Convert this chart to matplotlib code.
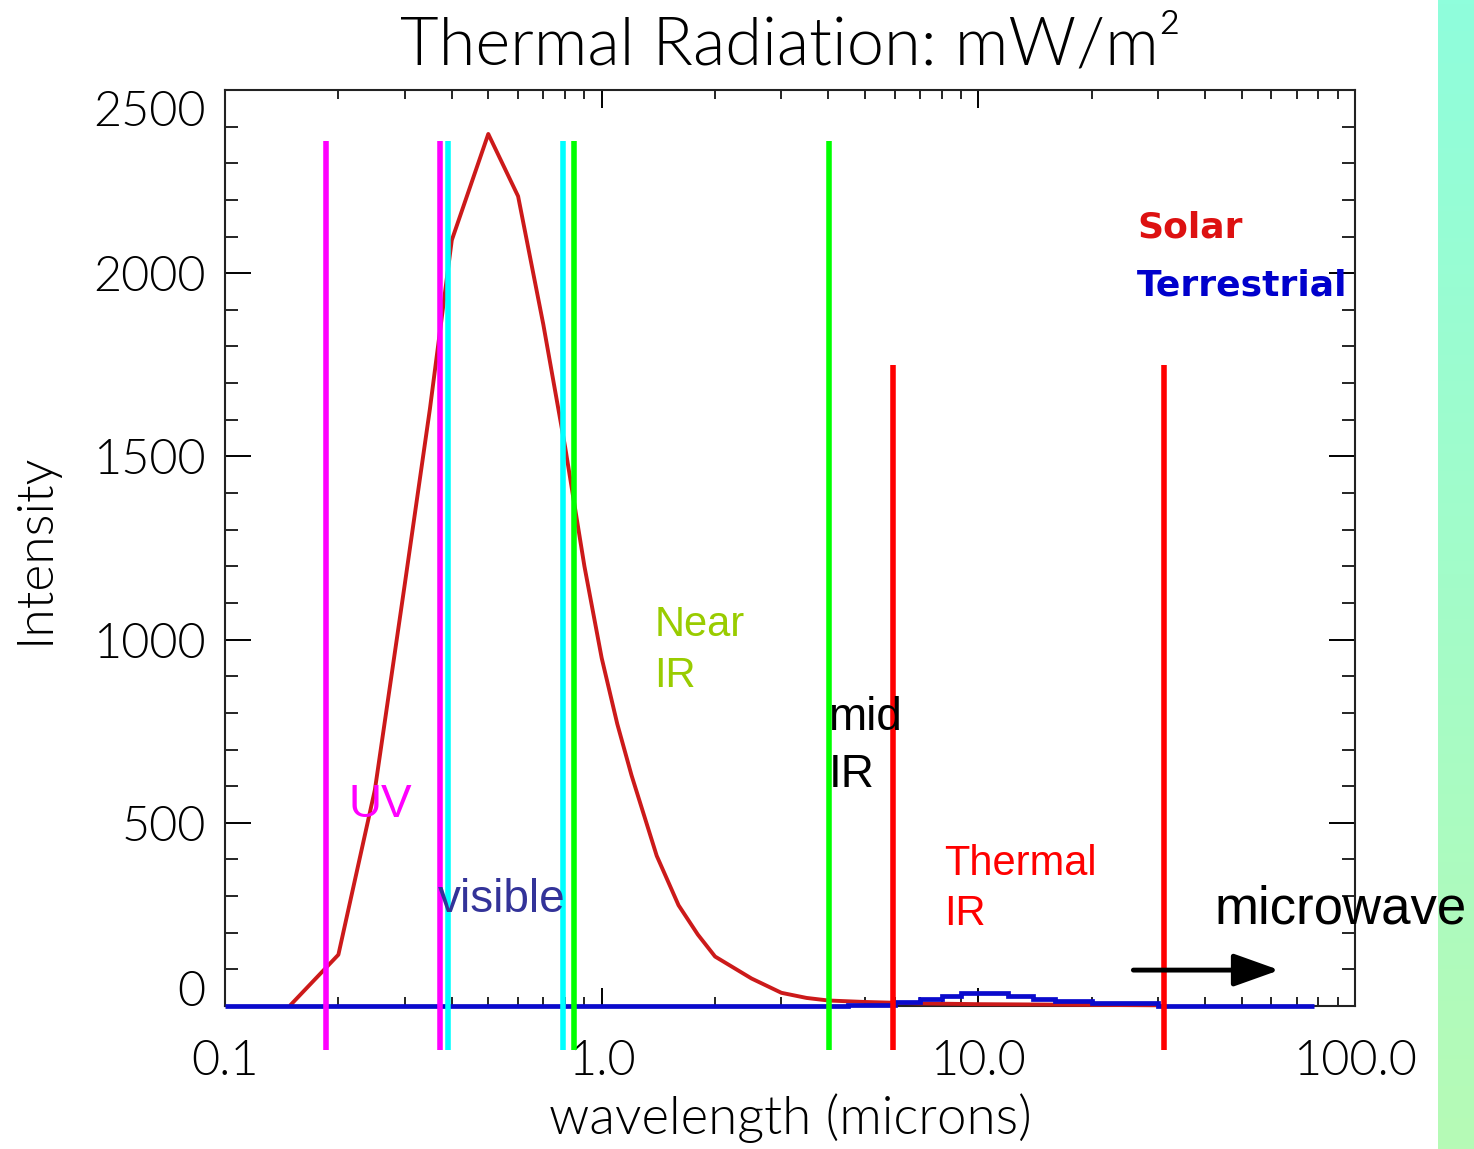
import matplotlib
matplotlib.use('Agg')
import matplotlib.pyplot as plt
import numpy as np
from matplotlib.colors import LinearSegmentedColormap
from matplotlib.ticker import FixedLocator, MultipleLocator, LogLocator, NullFormatter

plt.rcParams['font.family'] = ['Lato', 'DejaVu Sans']
plt.rcParams['font.weight'] = 300

# solar curve (microns, intensity)
solar_wavelength = [0.15, 0.2, 0.25, 0.3, 0.35, 0.4, 0.5, 0.6, 0.7, 0.8, 0.9, 1.0,
                    1.1, 1.2, 1.4, 1.6, 1.8, 2.0, 2.5, 3.0, 3.5, 4.0, 5.0, 7.0,
                    10.0, 15.0, 20.0, 30.0]
solar_intensity = [5, 140, 590, 1150, 1630, 2090, 2380, 2210, 1860, 1525, 1200, 950,
                   770, 630, 410, 275, 195, 135, 75, 36, 22, 15, 11, 7,
                   5, 4, 3, 2]

# terrestrial curve, drawn as steps (bin edges in microns)
terr_edges = [0.1, 4.5, 6.0, 7.0, 8.0, 9.0, 12.0, 14.0, 16.0, 20.0, 30.0, 78.0]
terr_intensity = [0, 3, 12, 18, 27, 35, 27, 20, 14, 7, 0]

# band boundaries
band_edges = [0.185, 0.373, 0.392, 0.79, 0.843, 4.02, 5.92, 31.1]
band_colors = ['#ff00ff', '#ff00ff', '#00ffff', '#00ffff',
               '#00ff00', '#00ff00', '#ff0000', '#ff0000']
band_tops = [2360, 2360, 2360, 2360, 2360, 2360, 1750, 1750]

band_labels = [
    ('UV', 0.213, 515, '#ff00ff', 33),
    ('visible', 0.367, 256, '#333399', 33),
    ('Near', 1.38, 1011, '#99cc00', 30),
    ('IR', 1.38, 870, '#99cc00', 30),
    ('mid', 4.0, 752, 'black', 33),
    ('IR', 4.0, 597, 'black', 33),
    ('Thermal', 8.12, 357, '#ff0000', 30),
    ('IR', 8.12, 221, '#ff0000', 30),
    ('microwave', 42.3, 226, 'black', 38),
]

x_ticks = [0.1, 1.0, 10.0, 100.0]
x_ticklabels = ['0.1', '1.0', '10.0', '100.0']
y_ticks = [0, 500, 1000, 1500, 2000, 2500]

fig = plt.figure(figsize=(14.74, 11.49), dpi=100)

# colour strip on the right edge
strip = fig.add_axes([1438 / 1474, 0, 36 / 1474, 1])
cmap = LinearSegmentedColormap.from_list('strip', ['#8ffedc', '#b6fab6'])
strip.imshow(np.linspace(0, 1, 256)[:, None], aspect='auto', cmap=cmap)
strip.axis('off')

ax = fig.add_axes([225 / 1474, 1 - 1006 / 1149, 1130 / 1474, 916 / 1149])
ax.set_xscale('log')
ax.set_xlim(0.1, 100)
ax.set_ylim(0, 2500)

ax.plot(solar_wavelength, solar_intensity, color='#cc1a1a', lw=2.8, zorder=3, clip_on=False)
ax.stairs(terr_intensity, terr_edges, baseline=None, color='#0a0acc', lw=3.4,
          zorder=4, clip_on=False)

ax.vlines(band_edges, -120, band_tops, colors=band_colors, lw=4, zorder=5, clip_on=False)

for txt, x, y, c, fs in band_labels:
    ax.text(x, y, txt, color=c, fontsize=fs, family='Liberation Sans',
            fontweight='normal', va='baseline', ha='left', zorder=6)

ax.annotate('', xy=(63, 98), xytext=(25.8, 98),
            arrowprops=dict(arrowstyle='-|>,head_length=2.8,head_width=1.0',
                            color='black', lw=3.5, mutation_scale=10,
                            shrinkA=0, shrinkB=0), zorder=6)

ax.text(26.4, 2097, 'Solar', color='#dd1111', fontsize=26, family='DejaVu Sans',
        fontweight='bold', va='baseline')
ax.text(26.4, 1938, 'Terrestrial', color='#0000cc', fontsize=26, family='DejaVu Sans',
        fontweight='bold', va='baseline')

ax.xaxis.set_major_locator(FixedLocator(x_ticks))
ax.set_xticklabels(x_ticklabels)
ax.xaxis.set_minor_locator(LogLocator(base=10, subs=np.arange(2, 10)))
ax.xaxis.set_minor_formatter(NullFormatter())
ax.set_yticks(y_ticks)
ax.yaxis.set_minor_locator(MultipleLocator(100))

ax.tick_params(axis='x', which='major', direction='in', length=13, width=1.4,
               top=True, bottom=True, pad=24, labelsize=35)
ax.tick_params(axis='x', which='minor', direction='in', length=6.5, width=1.2,
               top=True, bottom=True)
ax.tick_params(axis='y', which='major', direction='in', length=19, width=1.4,
               left=True, right=True, pad=14, labelsize=35)
ax.tick_params(axis='y', which='minor', direction='in', length=9.5, width=1.2,
               left=True, right=True)

for lab in ax.get_xticklabels() + ax.get_yticklabels():
    lab.set_fontweight(300)
ylabels = ax.get_yticklabels()
ylabels[0].set_va('baseline')
ylabels[-1].set_va('top')

for s in ax.spines.values():
    s.set_linewidth(1.5)
    s.set_color('#222222')

ax.set_title('Thermal Radiation: mW/m²', fontsize=48, pad=18, fontweight=300)
ax.set_xlabel('wavelength (microns)', fontsize=38, fontweight=300)
ax.set_ylabel('Intensity', fontsize=37, fontweight=300)
ax.xaxis.set_label_coords(0.5, -0.095)
ax.yaxis.set_label_coords(-0.148, 0.5)

fig.savefig('out.png', dpi=100)
